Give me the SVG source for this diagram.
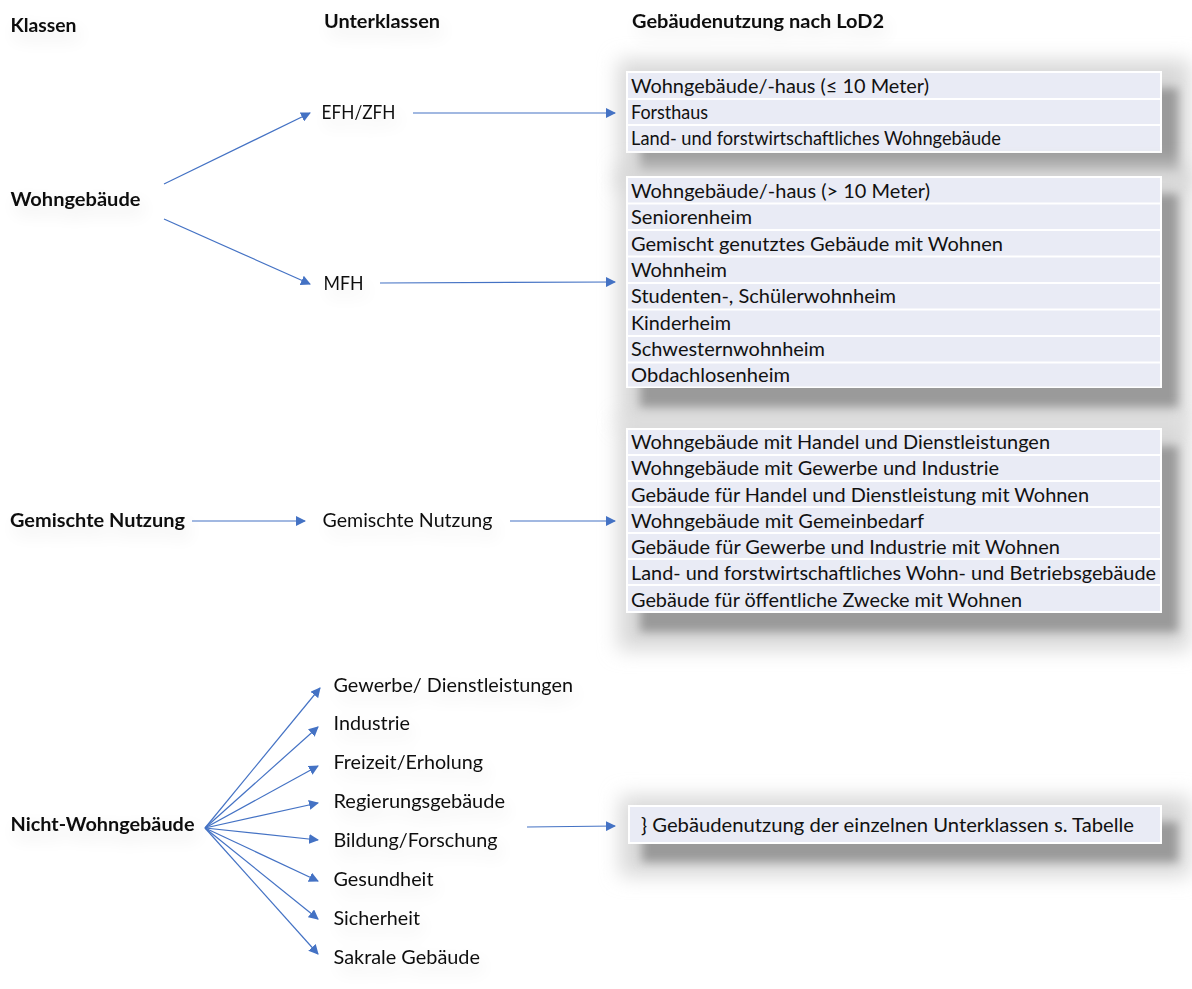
<svg xmlns="http://www.w3.org/2000/svg" width="1192" height="989" viewBox="0 0 1192 989">
<style>
  text { font-family: Lato, "Liberation Sans", sans-serif; font-size: 19.6px; fill: #111; }
  .b { font-weight: bold; }
  .row { fill: #E9EBF5; }
  .frame { fill: #ffffff; }
  .shadow { fill: #9a9a9a; filter: url(#sh); }
  .halo { fill: #d8d8d8; filter: url(#sh2); }
  .conn line { stroke: #4472C4; stroke-width: 1.2; fill: none; marker-end: url(#ah); }
  .lbl { filter: url(#ts); }
</style>
<defs>
  <marker id="ah" viewBox="0 0 10 10" refX="9" refY="5" markerWidth="10" markerHeight="10" markerUnits="userSpaceOnUse" orient="auto">
    <path d="M0,0 L10,5 L0,10 Z" fill="#4472C4"/>
  </marker>
  <filter id="sh" x="-10%" y="-30%" width="130%" height="180%">
    <feGaussianBlur stdDeviation="5"/>
  </filter>
  <filter id="sh2" x="-10%" y="-30%" width="130%" height="180%">
    <feGaussianBlur stdDeviation="10"/>
  </filter>
  <filter id="ts" x="-20%" y="-100%" width="150%" height="400%">
    <feGaussianBlur in="SourceAlpha" stdDeviation="9" result="b"/>
    <feOffset dx="4" dy="8" in="b" result="o"/>
    <feComponentTransfer in="o" result="s"><feFuncA type="linear" slope="0.12"/></feComponentTransfer>
    <feMerge><feMergeNode in="s"/><feMergeNode in="SourceGraphic"/></feMerge>
  </filter>
</defs>
<rect width="1192" height="989" fill="#ffffff"/>

<g id="headers" class="lbl">
  <text class="b" x="10.5" y="32" textLength="66" lengthAdjust="spacingAndGlyphs">Klassen</text>
  <text class="b" x="324" y="28" textLength="116" lengthAdjust="spacingAndGlyphs">Unterklassen</text>
  <text class="b" x="632" y="28" textLength="252" lengthAdjust="spacingAndGlyphs">Gebäudenutzung nach LoD2</text>
</g>

<g id="class-wohngebaeude" class="lbl"><text class="b" x="10.5" y="206" textLength="130" lengthAdjust="spacingAndGlyphs">Wohngebäude</text></g>
<g id="class-gemischt" class="lbl"><text class="b" x="10" y="527" textLength="175" lengthAdjust="spacingAndGlyphs">Gemischte Nutzung</text></g>
<g id="class-nichtwohn" class="lbl"><text class="b" x="10.5" y="831" textLength="184" lengthAdjust="spacingAndGlyphs">Nicht-Wohngebäude</text></g>

<g id="sub-efh" class="lbl"><text x="321.5" y="119" textLength="74" lengthAdjust="spacingAndGlyphs">EFH/ZFH</text></g>
<g id="sub-mfh" class="lbl"><text x="323.5" y="290" textLength="40" lengthAdjust="spacingAndGlyphs">MFH</text></g>
<g id="sub-gemischt" class="lbl"><text x="322.5" y="527" textLength="170" lengthAdjust="spacingAndGlyphs">Gemischte Nutzung</text></g>
<g id="sub-nw" class="lbl">
  <text x="333.5" y="692" textLength="239.5" lengthAdjust="spacingAndGlyphs">Gewerbe/ Dienstleistungen</text>
  <text x="333.5" y="730" textLength="76.5" lengthAdjust="spacingAndGlyphs">Industrie</text>
  <text x="333.5" y="769" textLength="149.5" lengthAdjust="spacingAndGlyphs">Freizeit/Erholung</text>
  <text x="333.5" y="808" textLength="171.5" lengthAdjust="spacingAndGlyphs">Regierungsgebäude</text>
  <text x="333.5" y="847" textLength="164" lengthAdjust="spacingAndGlyphs">Bildung/Forschung</text>
  <text x="333.5" y="886" textLength="100" lengthAdjust="spacingAndGlyphs">Gesundheit</text>
  <text x="333.5" y="925" textLength="86.5" lengthAdjust="spacingAndGlyphs">Sicherheit</text>
  <text x="333.5" y="964" textLength="146.5" lengthAdjust="spacingAndGlyphs">Sakrale Gebäude</text>
</g>

<g id="table-efh">
  <rect class="halo" x="618" y="60" width="572" height="130"/>
  <rect class="shadow" x="640" y="88" width="538" height="86"/>
  <rect class="frame" x="626" y="71" width="536" height="82"/>
  <rect class="row" x="628" y="73" width="532" height="25"/>
  <rect class="row" x="628" y="100" width="532" height="24"/>
  <rect class="row" x="628" y="126" width="532" height="25"/>
  <text x="631" y="93" textLength="298" lengthAdjust="spacingAndGlyphs">Wohngebäude/-haus (≤ 10 Meter)</text>
  <text x="631" y="119" textLength="77" lengthAdjust="spacingAndGlyphs">Forsthaus</text>
  <text x="631" y="145" textLength="370" lengthAdjust="spacingAndGlyphs">Land- und forstwirtschaftliches Wohngebäude</text>
</g>

<g id="table-mfh">
  <rect class="halo" x="618" y="166" width="572" height="260"/>
  <rect class="shadow" x="640" y="194" width="538" height="214"/>
  <rect class="frame" x="626" y="176" width="536" height="212"/>
  <rect class="row" x="628" y="178" width="532" height="24.5"/>
  <rect class="row" x="628" y="204.5" width="532" height="24.5"/>
  <rect class="row" x="628" y="231" width="532" height="24.5"/>
  <rect class="row" x="628" y="257.5" width="532" height="24.5"/>
  <rect class="row" x="628" y="284" width="532" height="24.5"/>
  <rect class="row" x="628" y="310.5" width="532" height="24.5"/>
  <rect class="row" x="628" y="337" width="532" height="24.5"/>
  <rect class="row" x="628" y="363.5" width="532" height="23"/>
  <text x="631" y="198" textLength="299" lengthAdjust="spacingAndGlyphs">Wohngebäude/-haus (&gt; 10 Meter)</text>
  <text x="631" y="224" textLength="121" lengthAdjust="spacingAndGlyphs">Seniorenheim</text>
  <text x="631" y="251" textLength="372" lengthAdjust="spacingAndGlyphs">Gemischt genutztes Gebäude mit Wohnen</text>
  <text x="631" y="277" textLength="96" lengthAdjust="spacingAndGlyphs">Wohnheim</text>
  <text x="631" y="303" textLength="265" lengthAdjust="spacingAndGlyphs">Studenten-, Schülerwohnheim</text>
  <text x="631" y="330" textLength="100" lengthAdjust="spacingAndGlyphs">Kinderheim</text>
  <text x="631" y="356" textLength="194" lengthAdjust="spacingAndGlyphs">Schwesternwohnheim</text>
  <text x="631" y="382" textLength="159" lengthAdjust="spacingAndGlyphs">Obdachlosenheim</text>
</g>

<g id="table-gemischt">
  <rect class="halo" x="618" y="418" width="572" height="232"/>
  <rect class="shadow" x="640" y="446" width="538" height="186"/>
  <rect class="frame" x="626" y="428" width="536" height="185"/>
  <rect class="row" x="628" y="430" width="532" height="24"/>
  <rect class="row" x="628" y="456" width="532" height="24"/>
  <rect class="row" x="628" y="482" width="532" height="24"/>
  <rect class="row" x="628" y="508" width="532" height="24"/>
  <rect class="row" x="628" y="534" width="532" height="24"/>
  <rect class="row" x="628" y="560" width="532" height="24"/>
  <rect class="row" x="628" y="586" width="532" height="25"/>
  <text x="631" y="449" textLength="419" lengthAdjust="spacingAndGlyphs">Wohngebäude mit Handel und Dienstleistungen</text>
  <text x="631" y="475" textLength="368" lengthAdjust="spacingAndGlyphs">Wohngebäude mit Gewerbe und Industrie</text>
  <text x="631" y="502" textLength="458" lengthAdjust="spacingAndGlyphs">Gebäude für Handel und Dienstleistung mit Wohnen</text>
  <text x="631" y="528" textLength="293" lengthAdjust="spacingAndGlyphs">Wohngebäude mit Gemeinbedarf</text>
  <text x="631" y="554" textLength="429" lengthAdjust="spacingAndGlyphs">Gebäude für Gewerbe und Industrie mit Wohnen</text>
  <text x="631" y="580" textLength="525" lengthAdjust="spacingAndGlyphs">Land- und forstwirtschaftliches Wohn- und Betriebsgebäude</text>
  <text x="631" y="607" textLength="391" lengthAdjust="spacingAndGlyphs">Gebäude für öffentliche Zwecke mit Wohnen</text>
</g>

<g id="table-nw">
  <rect class="halo" x="620" y="796" width="570" height="80"/>
  <rect class="shadow" x="642" y="822" width="536" height="40"/>
  <rect class="frame" x="628" y="805" width="534" height="39"/>
  <rect class="row" x="630" y="807" width="530" height="35"/>
  <text x="641" y="832" textLength="493" lengthAdjust="spacingAndGlyphs">} Gebäudenutzung der einzelnen Unterklassen s. Tabelle</text>
</g>

<g id="connectors" class="conn">
  <line x1="164" y1="184" x2="310" y2="113"/>
  <line x1="164" y1="219" x2="310" y2="284"/>
  <line x1="413" y1="113" x2="615" y2="113"/>
  <line x1="380" y1="283" x2="615" y2="282"/>
  <line x1="192" y1="521" x2="305" y2="521"/>
  <line x1="510" y1="521" x2="615" y2="521"/>
  <line x1="205" y1="828" x2="320" y2="688"/>
  <line x1="205" y1="828" x2="318" y2="727"/>
  <line x1="205" y1="828" x2="318" y2="766"/>
  <line x1="205" y1="828" x2="318" y2="803"/>
  <line x1="205" y1="828" x2="318" y2="840"/>
  <line x1="205" y1="828" x2="318" y2="881"/>
  <line x1="205" y1="828" x2="318" y2="919"/>
  <line x1="205" y1="828" x2="318" y2="954"/>
  <line x1="527" y1="827" x2="615" y2="826"/>
</g>
</svg>
